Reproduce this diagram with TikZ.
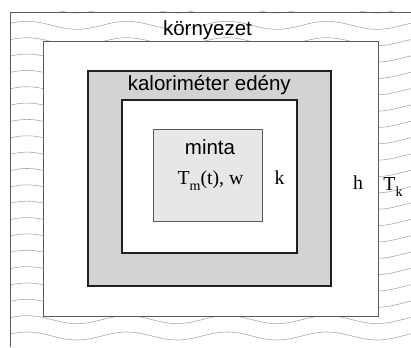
\documentclass[tikz,border=0pt]{standalone}
\usepackage{fontspec}
\setmainfont{Liberation Serif}
\newfontfamily\labelsans{Liberation Sans}
\usetikzlibrary{positioning}
\definecolor{wavegray}{HTML}{A4A4A4}
\definecolor{framegray}{HTML}{5A5A5A}
\definecolor{vesselgray}{HTML}{D1D3D4}
\definecolor{samplegray}{HTML}{E6E7E8}
\definecolor{wallblack}{HTML}{231F20}
\newcommand{\lowsub}[1]{\raisebox{-0.32em}{\fontsize{14}{14}\selectfont #1}}

\begin{document}
\begin{tikzpicture}[x=1pt, y=-1pt, wave/.style={draw=wavegray, line width=0.55pt}, sanslabel/.style={font=\labelsans\fontsize{20.5}{24}\selectfont, anchor=base, inner sep=0pt}, seriflabel/.style={font=\fontsize{19.8}{23}\selectfont, anchor=base, inner sep=0pt}]
\useasboundingbox (0,0) rectangle (411,347);
\begin{scope}
\clip (10,12) rectangle (411,347);
\foreach \n in {0,...,21}
  \draw[wave] plot[domain=10:411, samples=80, smooth] (\x, {9+16.35*\n-4*cos(3.6*(\x-27))});
\end{scope}
\draw[framegray, line width=0.8pt] (10,347) -- (10,12) -- (411,12);
\draw[framegray, fill=white, line width=0.8pt] (43.3,41.7) rectangle (378.3,316);
\draw[wallblack, fill=vesselgray, line width=2pt] (88.3,71) rectangle (331.3,286.3);
\draw[wallblack, fill=white, line width=2pt] (121.7,100) rectangle (297.3,253.3);
\draw[framegray, fill=samplegray, line width=0.8pt] (153.5,129.5) rectangle (262.5,221.5);
\node[sanslabel] (env) at (207.5,36) {környezet};
\node[sanslabel] (vessel) at (209.3,90.5) {kaloriméter edény};
\node[sanslabel] (sample) at (210,155) {minta};
\node[seriflabel] (tm) at (210.5,184) {T\lowsub{m}(t), w};
\node[seriflabel] (k) at (279.5,184) {k};
\node[seriflabel] (h) at (358,189.5) {h};
\node[seriflabel] (tk) at (393,190.5) {T\lowsub{k}};
\end{tikzpicture}
\end{document}
